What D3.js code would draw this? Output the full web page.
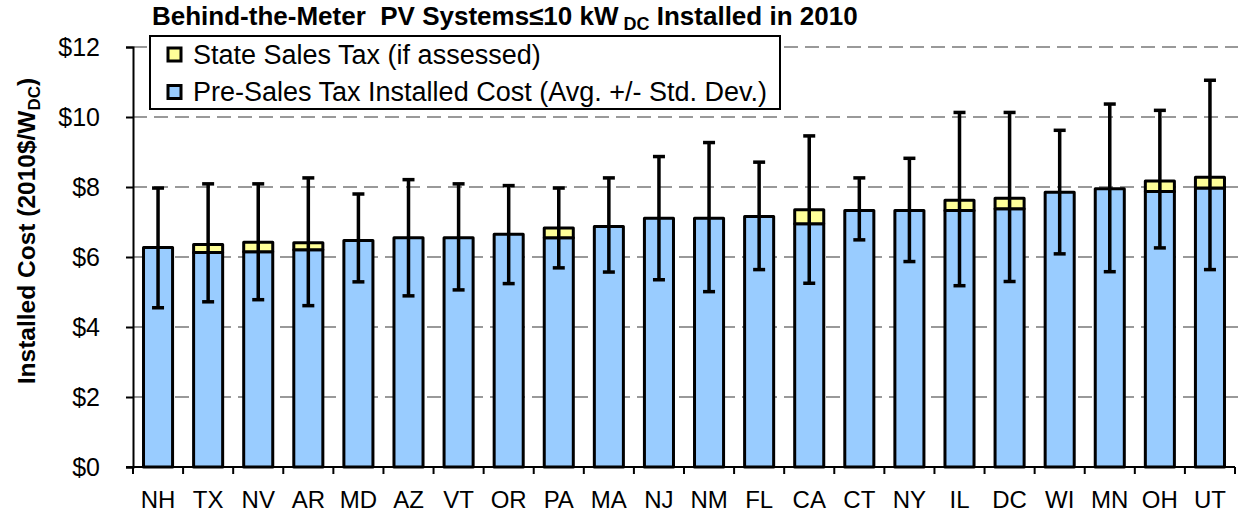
<!DOCTYPE html>
<html>
<head>
<meta charset="utf-8">
<script src="https://cdn.jsdelivr.net/npm/d3@7"></script>
<style>
  body { margin: 0; background: #fff; }
  svg text { font-family: "Liberation Sans", Arial, sans-serif; white-space: pre; }
</style>
</head>
<body>
<svg id="chart_svg"></svg>
<script>
// Data ($/W, 2010$)
const states = ["NH","TX","NV","AR","MD","AZ","VT","OR","PA","MA","NJ","NM","FL","CA","CT","NY","IL","DC","WI","MN","OH","UT"];
const preTax = [6.27,6.13,6.15,6.21,6.47,6.55,6.55,6.65,6.55,6.87,7.11,7.11,7.16,6.95,7.33,7.33,7.33,7.38,7.85,7.95,7.87,7.97];
const salesTax = [0,0.23,0.27,0.20,0,0,0,0,0.28,0,0,0,0,0.40,0,0,0.29,0.30,0,0,0.30,0.31];
const errLow = [4.55,4.72,4.78,4.61,5.29,4.89,5.06,5.24,5.69,5.57,5.35,5.01,5.64,5.25,6.49,5.87,5.18,5.30,6.09,5.58,6.26,5.64];
const errHigh = [7.97,8.09,8.09,8.26,7.80,8.21,8.09,8.04,7.97,8.26,8.87,9.27,8.71,9.46,8.26,8.82,10.13,10.13,9.62,10.37,10.19,11.05];
const yTicks = [0,2,4,6,8,10,12];
const legendItems = [
  { label: "State Sales Tax (if assessed)", color: "#ffff99" },
  { label: "Pre-Sales Tax Installed Cost (Avg. +/- Std. Dev.)", color: "#99ccff" }
];

const data = states.map((s, i) => ({ state: s, pre: preTax[i], tax: salesTax[i], lo: errLow[i], hi: errHigh[i] }));

const width = 1238, height = 519;
const plotLeft = 133, plotRight = 1235, plotTop = 47, plotBottom = 467;

const svg = d3.select("#chart_svg").attr("width", width).attr("height", height);

const x = d3.scaleBand().domain(states).range([plotLeft, plotRight]).paddingInner(0.42).paddingOuter(0.21);
const y = d3.scaleLinear().domain([0, 12]).range([plotBottom, plotTop]);

// gridlines
svg.append("g")
  .selectAll("line")
  .data(yTicks.filter(d => d > 0))
  .enter().append("line")
  .attr("x1", plotLeft).attr("x2", width)
  .attr("y1", d => y(d)).attr("y2", d => y(d))
  .attr("stroke", "#999")
  .attr("stroke-width", 2)
  .attr("stroke-dasharray", "14,7");

// y axis
const yAxis = svg.append("g")
  .attr("transform", `translate(${plotLeft},0)`)
  .call(d3.axisLeft(y).tickValues(yTicks).tickFormat(d => "$" + d).tickSize(7).tickPadding(26));
yAxis.select(".domain").attr("stroke", "#000").attr("stroke-width", 2);
yAxis.selectAll(".tick line").attr("stroke", "#000").attr("stroke-width", 2);
yAxis.selectAll("text").attr("font-size", 25).attr("font-family", "Liberation Sans, Arial, sans-serif").attr("fill", "#000");

// x axis line + category boundary ticks
svg.append("line")
  .attr("x1", plotLeft - 7).attr("x2", plotRight)
  .attr("y1", plotBottom).attr("y2", plotBottom)
  .attr("stroke", "#000").attr("stroke-width", 2);
svg.append("g")
  .selectAll("line")
  .data(d3.range(states.length + 1))
  .enter().append("line")
  .attr("x1", i => plotLeft + i * x.step()).attr("x2", i => plotLeft + i * x.step())
  .attr("y1", plotBottom).attr("y2", plotBottom + 7)
  .attr("stroke", "#000").attr("stroke-width", 2);
svg.append("g")
  .selectAll("text")
  .data(states)
  .enter().append("text")
  .attr("x", d => x(d) + x.bandwidth() / 2)
  .attr("y", 508)
  .attr("text-anchor", "middle")
  .attr("font-size", 24)
  .text(d => d);

// bars
const bars = svg.append("g");
bars.selectAll("rect.pre")
  .data(data)
  .enter().append("rect")
  .attr("class", "pre")
  .attr("x", d => x(d.state))
  .attr("width", x.bandwidth())
  .attr("y", d => y(d.pre))
  .attr("height", d => y(0) - y(d.pre))
  .attr("fill", "#99ccff")
  .attr("stroke", "#000")
  .attr("stroke-width", 3)
  .attr("stroke-linejoin", "round");
bars.selectAll("rect.tax")
  .data(data.filter(d => d.tax > 0))
  .enter().append("rect")
  .attr("class", "tax")
  .attr("x", d => x(d.state))
  .attr("width", x.bandwidth())
  .attr("y", d => y(d.pre + d.tax))
  .attr("height", d => y(d.pre) - y(d.pre + d.tax))
  .attr("fill", "#ffff99")
  .attr("stroke", "#000")
  .attr("stroke-width", 3)
  .attr("stroke-linejoin", "round");

// error bars
const err = svg.append("g").attr("stroke", "#000");
err.selectAll("line.v")
  .data(data)
  .enter().append("line")
  .attr("x1", d => x(d.state) + x.bandwidth() / 2)
  .attr("x2", d => x(d.state) + x.bandwidth() / 2)
  .attr("y1", d => y(d.lo)).attr("y2", d => y(d.hi))
  .attr("stroke-width", 3.5);
["lo", "hi"].forEach(k => {
  err.selectAll("line.cap-" + k)
    .data(data)
    .enter().append("line")
    .attr("x1", d => x(d.state) + x.bandwidth() / 2 - 6)
    .attr("x2", d => x(d.state) + x.bandwidth() / 2 + 6)
    .attr("y1", d => y(d[k])).attr("y2", d => y(d[k]))
    .attr("stroke-width", 3.5);
});

// legend
const legend = svg.append("g");
legend.append("rect")
  .attr("x", 150).attr("y", 36).attr("width", 630).attr("height", 73)
  .attr("fill", "#fff").attr("stroke", "#000").attr("stroke-width", 2);
const li = legend.selectAll("g.item")
  .data(legendItems)
  .enter().append("g")
  .attr("transform", (d, i) => `translate(0,${54 + i * 37.5})`);
li.append("rect")
  .attr("x", 168).attr("y", -6).attr("width", 13).attr("height", 13)
  .attr("fill", d => d.color).attr("stroke", "#000").attr("stroke-width", 3);
li.append("text")
  .attr("x", 193).attr("y", 9.5)
  .attr("font-size", 27)
  .text(d => d.label);

// title
const title = svg.append("text")
  .attr("x", 152).attr("y", 25)
  .attr("font-size", 26).attr("font-weight", "bold");
title.append("tspan").text("Behind-the-Meter  PV Systems\u226410 kW");
title.append("tspan").attr("font-size", 18).attr("dy", 5).text(" DC");
title.append("tspan").attr("dy", -5).text(" Installed in 2010");

// y axis title
const yt = svg.append("text")
  .attr("transform", "translate(35,231) rotate(-90)")
  .attr("text-anchor", "middle")
  .attr("font-size", 24.5).attr("font-weight", "bold");
yt.append("tspan").text("Installed Cost (2010$/W");
yt.append("tspan").attr("font-size", 17).attr("dy", 5).text("DC");
yt.append("tspan").attr("dy", -5).text(")");
</script>
</body>
</html>
